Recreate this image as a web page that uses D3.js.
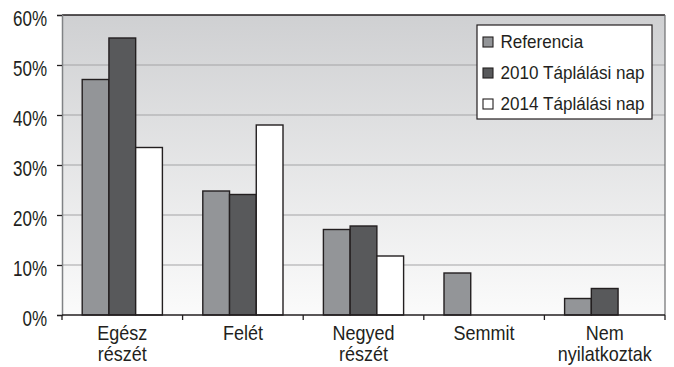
<!DOCTYPE html>
<html>
<head>
<meta charset="utf-8">
<script src="https://cdn.jsdelivr.net/npm/d3@7"></script>
<style>
  html, body { margin: 0; padding: 0; background: #fff; }
  svg text { font-family: "Liberation Sans Narrow", "Arial Narrow", "Liberation Sans", Arial, sans-serif; fill: #231f20; }
</style>
</head>
<body>
<svg id="chart" width="674" height="367"></svg>
<script>
// Categories (two-line labels) and series values in percent
const categories = [["Egész", "részét"], ["Felét"], ["Negyed", "részét"], ["Semmit"], ["Nem", "nyilatkoztak"]];
const seriesNames = ["Referencia", "2010 Táplálási nap", "2014 Táplálási nap"];
const referencia = [47.1, 24.8, 17.1, 8.4, 3.3];
const taplalasi2010 = [55.4, 24.1, 17.8, 0, 5.3];
const taplalasi2014 = [33.5, 38.0, 11.8, 0, 0];
const yTicks = [0, 10, 20, 30, 40, 50, 60];
const seriesColors = ["#939598", "#58595b", "#ffffff"];

const svg = d3.select("#chart");
const m = { left: 62, top: 15, right: 665, bottom: 315 };

const x0 = d3.scaleBand()
  .domain(categories.map((c, i) => i))
  .range([m.left, m.right])
  .paddingInner(0.335)
  .paddingOuter(0.1675);
const x1 = d3.scaleBand()
  .domain(seriesNames.map((s, i) => i))
  .range([0, x0.bandwidth()]);
const y = d3.scaleLinear().domain([0, 60]).range([m.bottom, m.top]);

// Condensed text: plain sans scaled horizontally around its anchor point
function condensedText(sel, x, yPos, sx) {
  return sel.append("g")
    .attr("transform", `translate(${x},${yPos}) scale(${sx},1)`)
    .append("text");
}

// Plot background gradient
const defs = svg.append("defs");
const grad = defs.append("linearGradient").attr("id", "bg").attr("x1", 0).attr("y1", 0).attr("x2", 0).attr("y2", 1);
grad.append("stop").attr("offset", "0%").attr("stop-color", "#cfd0d2");
grad.append("stop").attr("offset", "100%").attr("stop-color", "#fbfbfb");

svg.append("rect")
  .attr("x", m.left).attr("y", m.top)
  .attr("width", m.right - m.left).attr("height", m.bottom - m.top)
  .attr("fill", "url(#bg)");

// Horizontal gridlines
svg.append("g").selectAll("line")
  .data(yTicks.filter(t => t > 0 && t < 60))
  .join("line")
  .attr("x1", m.left).attr("x2", m.right)
  .attr("y1", d => y(d)).attr("y2", d => y(d))
  .attr("stroke", "#a3a4a6").attr("stroke-width", 1.2);

// Top and right frame
svg.append("line").attr("x1", m.left).attr("x2", m.right).attr("y1", m.top).attr("y2", m.top)
  .attr("stroke", "#231f20").attr("stroke-width", 1.5);
svg.append("line").attr("x1", m.right).attr("x2", m.right).attr("y1", m.top).attr("y2", m.bottom)
  .attr("stroke", "#6d6e70").attr("stroke-width", 1.2);

// Bars
const series = [referencia, taplalasi2010, taplalasi2014];
const groups = svg.append("g").selectAll("g")
  .data(categories.map((c, i) => i))
  .join("g")
  .attr("transform", i => `translate(${x0(i)},0)`);
groups.selectAll("rect")
  .data(i => series.map((s, k) => ({ k, v: s[i] })).filter(d => d.v > 0))
  .join("rect")
  .attr("x", d => x1(d.k))
  .attr("width", x1.bandwidth())
  .attr("y", d => y(d.v))
  .attr("height", d => y(0) - y(d.v))
  .attr("fill", d => seriesColors[d.k])
  .attr("stroke", "#231f20")
  .attr("stroke-width", 1.4);

// Y axis (ticks from d3, labels drawn condensed)
const yAxis = svg.append("g")
  .attr("transform", `translate(${m.left},0)`)
  .call(d3.axisLeft(y).tickValues(yTicks).tickFormat("").tickSize(5));
yAxis.select(".domain").attr("stroke", "#808285").attr("stroke-width", 1.5);
yAxis.selectAll(".tick line").attr("stroke", "#231f20").attr("stroke-width", 1.3);

const yLab = svg.append("g");
yTicks.forEach(t => {
  condensedText(yLab, 47, y(t) + 3, 0.79)
    .attr("text-anchor", "end")
    .attr("dominant-baseline", "central")
    .attr("font-size", 21.5)
    .text(t + "%");
});

// X axis line and category separators
svg.append("line").attr("x1", m.left).attr("x2", m.right).attr("y1", m.bottom).attr("y2", m.bottom)
  .attr("stroke", "#231f20").attr("stroke-width", 1.5);
svg.append("g").selectAll("line")
  .data(d3.range(categories.length + 1))
  .join("line")
  .attr("x1", i => m.left + i * (m.right - m.left) / categories.length)
  .attr("x2", i => m.left + i * (m.right - m.left) / categories.length)
  .attr("y1", m.bottom).attr("y2", m.bottom + 5)
  .attr("stroke", "#231f20").attr("stroke-width", 1.3);

// Category labels
const xLab = svg.append("g");
categories.forEach((lines, i) => {
  const cx = x0(i) + x0.bandwidth() / 2;
  lines.forEach((line, j) => {
    condensedText(xLab, cx, 340 + j * 21, 0.9)
      .attr("text-anchor", "middle")
      .attr("font-size", 20)
      .text(line);
  });
});

// Legend
const lg = svg.append("g").attr("transform", "translate(477,25)");
lg.append("rect").attr("width", 175).attr("height", 94)
  .attr("fill", "#fff").attr("stroke", "#231f20").attr("stroke-width", 1.2);
const items = lg.selectAll("g.item")
  .data(seriesNames)
  .join("g").attr("class", "item")
  .attr("transform", (d, i) => `translate(6,${17 + i * 31})`);
items.append("rect")
  .attr("x", 0).attr("y", -5).attr("width", 10).attr("height", 10)
  .attr("fill", (d, i) => seriesColors[i])
  .attr("stroke", "#231f20").attr("stroke-width", 1.1);
items.each(function (d) {
  condensedText(d3.select(this), 17.5, 5.5, 0.95)
    .attr("font-size", 18)
    .text(d);
});
</script>
</body>
</html>
